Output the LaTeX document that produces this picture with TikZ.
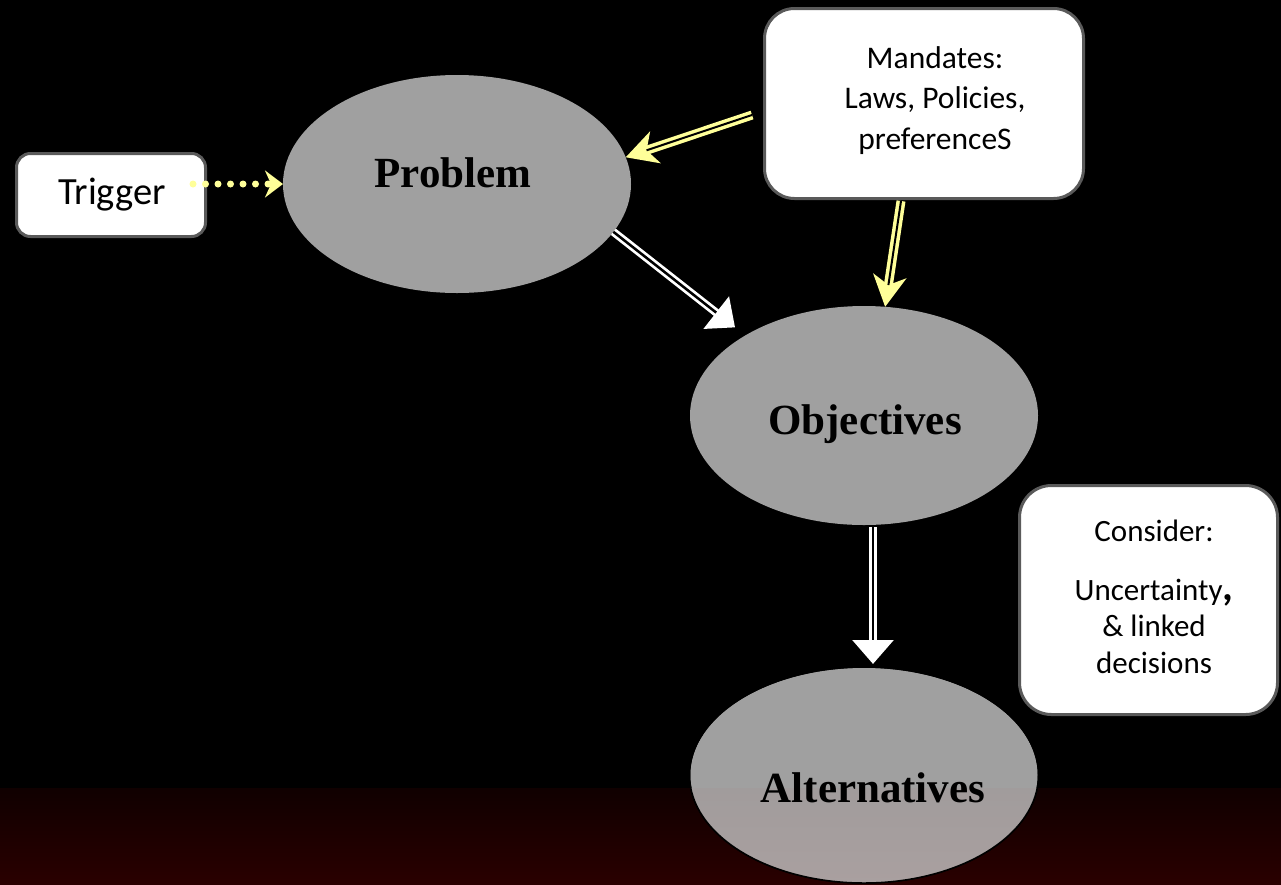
\documentclass[tikz,border=0pt]{standalone}
\usepackage{fontspec}
\setmainfont{Carlito}
\newfontfamily\tms{Liberation Serif}
\usetikzlibrary{shapes.geometric,arrows.meta}
\definecolor{yel}{RGB}{255,255,153}
\definecolor{bgray}{RGB}{160,160,160}
\definecolor{edge}{RGB}{90,90,90}
\definecolor{redtop}{RGB}{16,0,0}
\definecolor{redbot}{RGB}{42,0,0}
\definecolor{alttop}{RGB}{161,156,156}
\definecolor{altbot}{RGB}{170,160,160}
\begin{document}
\begin{tikzpicture}[x=1pt,y=-1pt,
  oval/.style={ellipse, fill=bgray, inner sep=0pt, outer sep=0pt},
  box/.style={rectangle, draw=edge, line width=3pt, fill=white, inner sep=0pt},
  title/.style={font=\tms\bfseries\fontsize{43}{43}\selectfont, anchor=base, inner sep=0pt, text=black},
  boxtext/.style={align=center, anchor=base, inner sep=0pt, text=black},
  yarr/.style={draw=yel, line width=9pt, -{Stealth[length=31pt,width=33pt,inset=9pt]}},
  yin/.style={draw=black, line width=2pt, shorten >=22pt},
  warr/.style={draw=white, line width=8pt, -{Triangle[length=24pt,width=40pt]}},
  win/.style={draw=black, line width=2.5pt},
  dotarr/.style={draw=yel, line width=7pt, line cap=round, dash pattern=on 0pt off 12.5pt, -{Stealth[length=18pt,width=27pt,inset=6pt]}}
]
\useasboundingbox (0,0) rectangle (1281,884);
\fill[black] (0,0) rectangle (1281,884);
\shade[top color=redtop, bottom color=redbot] (0,788) rectangle (1281,884);

% ellipses
\node[oval, minimum width=348pt, minimum height=218pt] (prob) at (457,184) {};
\node[oval, minimum width=348pt, minimum height=219pt] (obj) at (864,415.5) {};
\node[oval, draw=black, line width=1.5pt, minimum width=349pt, minimum height=216pt] (alt) at (864,775) {};
\begin{scope}
  \clip (864,775) ellipse [x radius=174.5, y radius=108];
  \shade[top color=alttop, bottom color=altbot] (680,788) rectangle (1050,890);
\end{scope}
\draw[black, line width=1.5pt] (alt.center) ellipse [x radius=174.5, y radius=108];

\node[title] (probt) at (453,187) {Problem};
\node[title] (objt) at (865,434) {Objectives};
\node[title] (altt) at (873,802) {Alternatives};

% boxes
\node[box, rounded corners=14pt, minimum width=189pt, minimum height=83pt,
      font=\fontsize{38.5}{38.5}\selectfont] (trig) at (111,195) {\hspace*{2pt}Trigger};
\node[box, rounded corners=30pt, minimum width=319pt, minimum height=190pt] (mand) at (924,103.5) {};
\node[boxtext, font=\fontsize{31.5}{40.5}\selectfont] (mandt) at (935,149)
  {Mandates:\\Laws, Policies,\\preferenceS};
\node[box, rounded corners=32pt, minimum width=258pt, minimum height=229pt] (cons) at (1148.5,600) {};
\node[boxtext, font=\fontsize{31}{36.5}\selectfont] (const) at (1154,673)
  {Consider:\\[22pt]Uncertainty{\bfseries\fontsize{42}{42}\selectfont,}\\\& linked\\decisions};

% connectors
\draw[dotarr] ([xshift=-14pt,yshift=11pt]trig.east) -- (prob.west);

\draw[yarr] ([xshift=-11pt,yshift=-11.5pt]mand.west) -- (prob.9);
\draw[yin] ([xshift=-11pt,yshift=-11.5pt]mand.west) -- (prob.9);

\draw[yarr] ([xshift=-23pt,yshift=-1pt]mand.south) -- (obj.79);
\draw[yin] ([xshift=-23pt,yshift=-1pt]mand.south) -- (obj.79);

\draw[warr, shorten >=13pt] (prob.-17) -- (obj.146);
\draw[win, shorten >=37pt] (prob.-17) -- (obj.146);

\draw[warr] ([xshift=9pt,yshift=-2pt]obj.south) -- ([xshift=9pt,yshift=3pt]alt.north);
\draw[win, shorten >=24pt] ([xshift=9pt,yshift=-2pt]obj.south) -- ([xshift=9pt,yshift=3pt]alt.north);
\end{tikzpicture}
\end{document}
